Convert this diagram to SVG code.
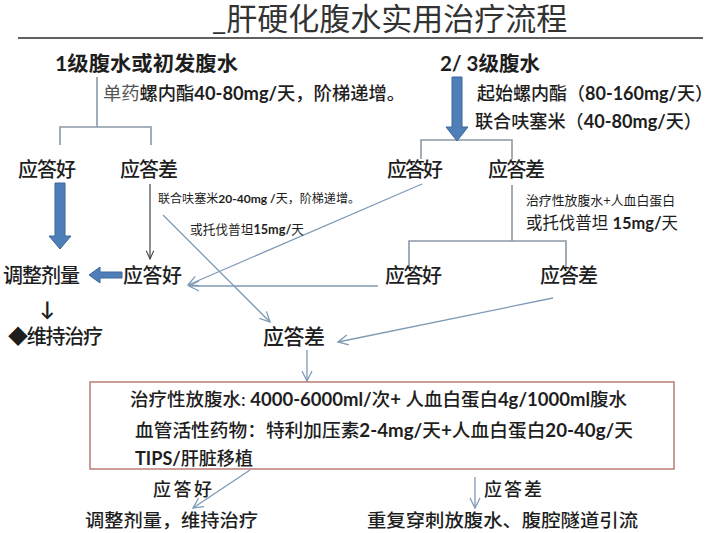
<svg xmlns="http://www.w3.org/2000/svg" width="720" height="533" viewBox="0 0 720 533">
<style>
text{font-family:Lato,"Noto Sans CJK SC",sans-serif;fill:#1e1e1e;font-weight:500}
.t20{font-size:20px}
.t18{font-size:18px}
.t17{font-size:17px}
.t13{font-size:13px}
.t12{font-size:12px}
.b{font-weight:bold}
.r{font-weight:normal}
.br{fill:none;stroke:#8a99a8;stroke-width:1.6}
.ln{fill:none;stroke:#7f9ab5;stroke-width:1.3}
.big{fill:#4f7fb8;stroke:#3d6899;stroke-width:1}
.lite{fill:#555;font-weight:normal}
</style>
<defs>
<marker id="oa" viewBox="0 0 12 12" refX="11" refY="6" markerWidth="12" markerHeight="12" markerUnits="userSpaceOnUse" orient="auto">
<path d="M1,1 L11,6 L1,11" fill="none" stroke="#7f9ab5" stroke-width="1.3"/>
</marker>
<marker id="oa2" viewBox="0 0 12 12" refX="11" refY="6" markerWidth="10" markerHeight="10" markerUnits="userSpaceOnUse" orient="auto">
<path d="M1,1.5 L11,6 L1,10.5" fill="none" stroke="#444" stroke-width="1.3"/>
</marker>
</defs>
<rect width="720" height="533" fill="#ffffff"/>

<g id="title">
<text x="212" y="30" style="font-size:31px;fill:#333;font-weight:normal">_肝硬化腹水实用治疗流程</text>
<line x1="18" y1="38" x2="703" y2="38" stroke="#606060" stroke-width="2"/>
</g>

<g id="connectors">
<path class="br" d="M97,77 V127 M60,145 V127 H151 V145"/>
<path class="br" d="M421,159 V140 H512 V159"/>
<path class="br" d="M512,185 V241 M409,267 V241 H566 V267"/>
<polygon class="big" points="452,77 462,77 462,127 468,127 457,141 446,127 452,127"/>
<polygon class="big" points="55,183 65,183 65,236 71,236 60,249 49,236 55,236"/>
<polygon class="big" points="122,272 100,272 100,267 89,275 100,283 100,278 122,278"/>
<line x1="150" y1="184" x2="150" y2="259" stroke="#444" stroke-width="1.2" marker-end="url(#oa2)"/>
<line class="ln" x1="163" y1="215" x2="270" y2="322" marker-end="url(#oa)"/>
<line class="ln" x1="422" y1="184" x2="188" y2="285" marker-end="url(#oa)"/>
<line class="ln" x1="378" y1="286" x2="189" y2="286" marker-end="url(#oa)"/>
<line class="ln" x1="553" y1="298" x2="338" y2="342" marker-end="url(#oa)"/>
<line class="ln" x1="307" y1="350" x2="307" y2="381" marker-end="url(#oa)"/>
<line class="ln" x1="250" y1="470" x2="193" y2="508" marker-end="url(#oa)"/>
<line class="ln" x1="475" y1="477" x2="475" y2="508" marker-end="url(#oa)"/>
</g>

<g id="n-grade1">
<text class="t20 b" x="55" y="71" textLength="183" lengthAdjust="spacingAndGlyphs">1级腹水或初发腹水</text>
<text class="t18" x="103" y="100" textLength="302" lengthAdjust="spacingAndGlyphs"><tspan class="lite">单药</tspan>螺内酯<tspan class="b">40-80mg/</tspan>天，阶梯递增。</text>
</g>
<g id="n-grade23">
<text class="t20 b" x="440" y="71" textLength="100" lengthAdjust="spacingAndGlyphs">2/ 3级腹水</text>
<text class="t18" x="477" y="100" textLength="236" lengthAdjust="spacingAndGlyphs">起始螺内酯（<tspan class="b">80-160mg/</tspan>天）</text>
<text class="t18" x="475" y="128" textLength="227" lengthAdjust="spacingAndGlyphs">联合呋塞米（<tspan class="b">40-80mg/</tspan>天）</text>
</g>
<g id="n-l-good"><text class="t20" x="18" y="177" textLength="58">应答好</text></g>
<g id="n-l-bad"><text class="t20" x="120" y="177" textLength="58">应答差</text></g>
<g id="n-r-good"><text class="t20" x="387" y="177" textLength="56">应答好</text></g>
<g id="n-r-bad"><text class="t20" x="488" y="177" textLength="57">应答差</text></g>
<g id="lbl-furo">
<text class="t12 r" x="158" y="203" textLength="202" lengthAdjust="spacingAndGlyphs">联合呋塞米<tspan class="b">20-40mg /</tspan>天，阶梯递增。</text>
<text class="t13 r" x="190" y="234" textLength="114" lengthAdjust="spacingAndGlyphs">或托伐普坦<tspan class="b">15mg/</tspan>天</text>
</g>
<g id="lbl-para">
<text class="t13 r" x="526" y="205" textLength="149" lengthAdjust="spacingAndGlyphs">治疗性放腹水+人血白蛋白</text>
<text class="t17 r" x="526" y="229" textLength="152" lengthAdjust="spacingAndGlyphs">或托伐普坦 <tspan class="b">15mg/</tspan>天</text>
</g>
<g id="n-adjust"><text class="t20" x="3" y="283" textLength="77">调整剂量</text></g>
<g id="n-l-good2"><text class="t20" x="123" y="283" textLength="59">应答好</text></g>
<g id="n-maintain">
<text class="t20 b" x="40" y="316">↓</text>
<text class="t20" x="8" y="344" textLength="95">◆维持治疗</text>
</g>
<g id="n-r-good2"><text class="t20" x="385" y="283" textLength="57">应答好</text></g>
<g id="n-r-bad2"><text class="t20" x="540" y="283" textLength="58">应答差</text></g>
<g id="n-mid-bad"><text class="t20" x="263" y="344" textLength="62" style="font-size:21px">应答差</text></g>
<g id="n-box">
<rect x="90" y="382" width="584" height="87" fill="#ffffff" stroke="#b06a64" stroke-width="1.3"/>
<text class="t18" x="130" y="406" textLength="497" lengthAdjust="spacingAndGlyphs">治疗性放腹水: <tspan class="b">4000-6000ml/</tspan>次<tspan class="b">+ </tspan>人血白蛋白<tspan class="b">4g/1000ml</tspan>腹水</text>
<text class="t18" x="135" y="437" textLength="498" lengthAdjust="spacingAndGlyphs">血管活性药物：特利加压素<tspan class="b">2-4mg/</tspan>天<tspan class="b">+</tspan>人血白蛋白<tspan class="b">20-40g/</tspan>天</text>
<text class="t18" x="135" y="465" textLength="118" lengthAdjust="spacingAndGlyphs"><tspan class="b">TIPS/</tspan>肝脏移植</text>
</g>
<g id="n-final-good">
<text class="t18" x="153" y="496" textLength="59">应答好</text>
<text class="t18" x="85" y="527" textLength="173" lengthAdjust="spacingAndGlyphs">调整剂量，维持治疗</text>
</g>
<g id="n-final-bad">
<text class="t18" x="484" y="496" textLength="58">应答差</text>
<text class="t18" x="367" y="527" textLength="271" lengthAdjust="spacingAndGlyphs">重复穿刺放腹水、腹腔隧道引流</text>
</g>
</svg>
